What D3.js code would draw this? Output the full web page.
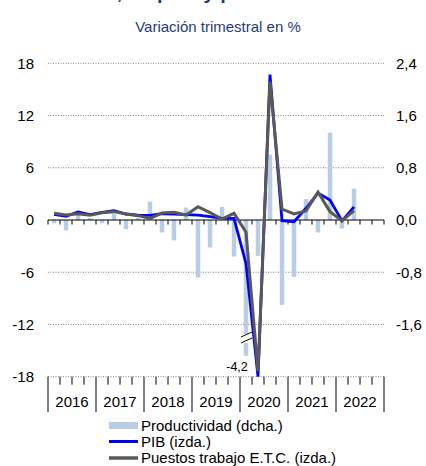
<!DOCTYPE html>
<html>
<head>
<meta charset="utf-8">
<script src="https://cdn.jsdelivr.net/npm/d3@7"></script>
<style>
  body { margin: 0; background: #fff; }
  svg text { font-family: "Liberation Sans", Arial, sans-serif; }
</style>
</head>
<body>
<svg id="graph"></svg>
<script>
const width = 426, height = 466;

// categories
const years = ["2016", "2017", "2018", "2019", "2020", "2021", "2022"];
const quarters = years.flatMap(y => ["T1", "T2", "T3", "T4"].map(q => `${y}${q}`));

// series (quarter-on-quarter %, 2016T1 .. 2022T2)
const pib = [0.65, 0.42, 0.92, 0.61, 0.88, 1.07, 0.69, 0.57, 0.54, 0.72, 0.69, 0.61,
             0.57, 0.38, 0.19, 0.19, -5.0, -18.0, 16.7, -0.08, -0.2, 1.35, 3.1, 2.3, -0.1, 1.5];
const empleo = [0.77, 0.57, 0.73, 0.54, 0.84, 0.96, 0.69, 0.5, 0.19, 0.8, 0.88, 0.57,
                1.53, 0.84, 0.11, 0.77, -1.4, -17.4, 15.9, 1.26, 0.69, 1.05, 3.2, 0.96, -0.1, 1.07];
const productividad = [-0.05, -0.16, 0.09, 0.03, -0.05, 0.1, -0.14, 0.03, 0.28, -0.19, -0.31, 0.19,
                       -0.88, -0.42, 0.2, -0.56, -4.2, -0.55, 1.0, -1.3, -0.87, 0.32, -0.19, 1.34, -0.13, 0.48];

// tick labels
const leftTicks = [-18, -12, -6, 0, 6, 12, 18];
const rightTicks = [-1.6, -0.8, 0, 0.8, 1.6, 2.4];
const rightMin = -2.4;   // bars below this level are cut with a break mark

const svg = d3.select("#graph")
    .attr("width", width)
    .attr("height", height);

const x = d3.scaleBand().domain(quarters).range([48, 384]);
const yL = d3.scaleLinear().domain([-18, 18]).range([376.7, 63.3]);
const yR = d3.scaleLinear().domain([-2.4, 2.4]).range([376.7, 63.3]);
const bw = x.bandwidth();
const cx = i => x(quarters[i]) + bw / 2;

// titles (the main title sits cut at the top edge, as in the source image)
svg.append("text")
    .attr("x", 218).attr("y", -1)
    .attr("text-anchor", "middle")
    .attr("fill", "#1F3A7A")
    .style("font-size", "20px")
    .style("font-weight", "bold")
    .text("PIB, empleo y productividad");

svg.append("text")
    .attr("x", 218).attr("y", 32)
    .attr("text-anchor", "middle")
    .attr("fill", "#1F3A7A")
    .style("font-size", "15px")
    .text("Variación trimestral en %");

// gridlines (dotted)
svg.append("g").selectAll("line")
    .data(leftTicks.filter(d => d !== 0))
    .enter().append("line")
    .attr("x1", 48).attr("x2", 384)
    .attr("y1", d => yL(d)).attr("y2", d => yL(d))
    .attr("stroke", "#7f7f7f")
    .attr("stroke-width", 1)
    .attr("stroke-dasharray", "1,1.5");

// left axis labels
svg.append("g").selectAll("text")
    .data(leftTicks)
    .enter().append("text")
    .attr("x", 34)
    .attr("y", d => yL(d))
    .attr("dy", "0.36em")
    .attr("text-anchor", "end")
    .attr("fill", "#000")
    .style("font-size", "15px")
    .text(d => String(d));

// right axis labels (spanish decimal comma, plain hyphen minus)
const fmtR = d => d3.format(".1f")(d).replace(".", ",").replace("\u2212", "-");
svg.append("g").selectAll("text")
    .data(rightTicks)
    .enter().append("text")
    .attr("x", 396)
    .attr("y", d => yR(d))
    .attr("dy", "0.36em")
    .attr("text-anchor", "start")
    .attr("fill", "#000")
    .style("font-size", "15px")
    .text(d => fmtR(d));

// productivity bars (right scale)
const barW = 4.5;
svg.append("g").selectAll("rect")
    .data(productividad)
    .enter().append("rect")
    .attr("x", (d, i) => cx(i) - barW / 2)
    .attr("width", barW)
    .attr("y", d => yR(Math.max(0, d)))
    .attr("height", d => {
        const v = d < -2.08 ? -2.08 : d;   // long bar cut above the bottom
        return Math.abs(yR(v) - yR(0));
    })
    .attr("fill", "#B9CDE5");

// break mark on the cut bar
const cutIdx = productividad.findIndex(d => d < rightMin + 0.3);
if (cutIdx >= 0) {
    const bx = cx(cutIdx);
    const brk = svg.append("g");
    brk.append("rect")
        .attr("x", bx - barW / 2 - 1).attr("width", barW + 2)
        .attr("y", 334).attr("height", 9)
        .attr("fill", "#fff");
    [[337, 332], [343, 338]].forEach(([y1, y2]) => {
        brk.append("line")
            .attr("x1", bx - 5).attr("x2", bx + 6)
            .attr("y1", y1).attr("y2", y2)
            .attr("stroke", "#000").attr("stroke-width", 1);
    });
    svg.append("text")
        .attr("x", bx - 9).attr("y", 371)
        .attr("text-anchor", "middle")
        .attr("fill", "#000")
        .style("font-size", "12.5px")
        .text(fmtR(productividad[cutIdx]));
}

// zero axis with quarter ticks
svg.append("line")
    .attr("x1", 48).attr("x2", 384)
    .attr("y1", yL(0)).attr("y2", yL(0))
    .attr("stroke", "#000").attr("stroke-width", 1.2);
svg.append("g").selectAll("line")
    .data(quarters.concat(["end"]))
    .enter().append("line")
    .attr("x1", (d, i) => 48 + i * bw).attr("x2", (d, i) => 48 + i * bw)
    .attr("y1", yL(0)).attr("y2", yL(0) + 4.5)
    .attr("stroke", "#000").attr("stroke-width", 1);

// bottom category axis
const yB = yL(-18);
svg.append("g").selectAll("line")
    .data(quarters.concat(["end"]))
    .enter().append("line")
    .attr("x1", (d, i) => 48 + i * bw).attr("x2", (d, i) => 48 + i * bw)
    .attr("y1", yB)
    .attr("y2", (d, i) => i % 4 === 0 ? 412 : yB + 8)
    .attr("stroke", "#000").attr("stroke-width", 1);

svg.append("g").selectAll("text")
    .data(years)
    .enter().append("text")
    .attr("x", d => x(`${d}T1`) + bw * 2)
    .attr("y", 407)
    .attr("text-anchor", "middle")
    .attr("fill", "#000")
    .style("font-size", "15px")
    .text(d => d);

// lines (left scale)
const line = d3.line()
    .x((d, i) => cx(i))
    .y(d => yL(d));

svg.append("path")
    .datum(pib)
    .attr("d", line)
    .attr("fill", "none")
    .attr("stroke", "#0000FF")
    .attr("stroke-width", 2.8)
    .attr("stroke-linejoin", "miter");

svg.append("path")
    .datum(empleo)
    .attr("d", line)
    .attr("fill", "none")
    .attr("stroke", "#595959")
    .attr("stroke-width", 3)
    .attr("stroke-linejoin", "miter");

// legend
const legend = svg.append("g");
legend.append("rect")
    .attr("x", 109).attr("y", 422).attr("width", 29).attr("height", 7)
    .attr("fill", "#B9CDE5");
legend.append("line")
    .attr("x1", 109).attr("x2", 138).attr("y1", 441.5).attr("y2", 441.5)
    .attr("stroke", "#0000FF").attr("stroke-width", 3);
legend.append("line")
    .attr("x1", 109).attr("x2", 138).attr("y1", 458).attr("y2", 458)
    .attr("stroke", "#595959").attr("stroke-width", 3.5);

const legendLabels = ["Productividad (dcha.)", "PIB (izda.)", "Puestos trabajo E.T.C. (izda.)"];
legend.selectAll("text")
    .data(legendLabels)
    .enter().append("text")
    .attr("x", 141)
    .attr("y", (d, i) => 431 + i * 15.8)
    .attr("fill", "#000")
    .style("font-size", "15px")
    .text(d => d);
</script>
</body>
</html>
